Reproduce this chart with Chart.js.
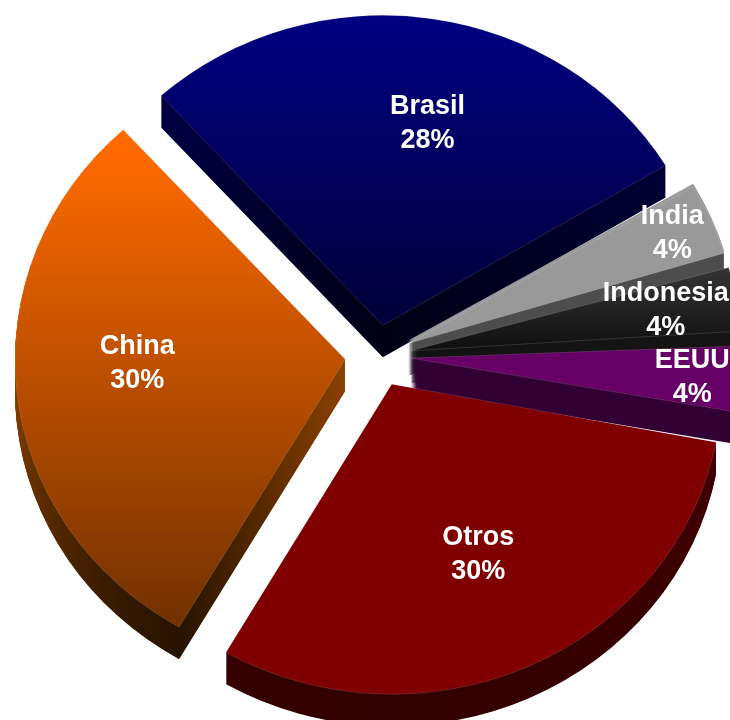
<!DOCTYPE html>
<html>
<head>
<meta charset="utf-8">
<style>
  html, body { margin: 0; padding: 0; background: #fff; overflow: hidden; }
  canvas { display: block; }
</style>
<script src="https://cdn.jsdelivr.net/npm/chart.js@4"></script>
</head>
<body>
<canvas id="myChart" width="730" height="720"></canvas>
<script>
// clockwise, starting from Brasil
const countries = ["Brasil", "India", "Indonesia", "EEUU", "Otros", "China"];
const shares = [28.1, 4.1, 3.7, 3.8, 30.4, 29.9];

// top face: [colour, colour, y from, y to]
const topFaces = [
  ["#000080", "#00003c", 60, 340],
  ["#999999", "#999999", 180, 350],
  ["#383838", "#111111", 270, 355],
  ["#660066", "#660066", 350, 420],
  ["#800000", "#800000", 380, 690],
  ["#ff6a00", "#703000", 150, 630],
];
// side walls, same layout
const walls = [
  ["#000048", "#000014", 100, 360],
  ["#4d4d4d", "#4d4d4d", 250, 360],
  ["#1c1c1c", "#101010", 300, 370],
  ["#330033", "#330033", 360, 440],
  ["#420000", "#300000", 400, 720],
  ["#8a4000", "#1c0e00", 360, 655],
];
// label shift from the slice's own centre line
const labelNudge = [[13, -2], [13, -10], [-15, 0], [8, -1], [0, -10], [-1, -19]];

const pieX = 378;
const pieY = 356;
const stretchX = 1.065;
const depth = 32;
const explode = 31;
const pieRadius = 310;
const indiaLift = 3; // India's face sits right against Brasil's wall

function grad(ctx, g) {
  const lg = ctx.createLinearGradient(0, g[2], 0, g[3]);
  lg.addColorStop(0, g[0]);
  lg.addColorStop(1, g[1]);
  return lg;
}

const pie3d = {
  id: "pie3d",
  beforeDatasetsDraw(chart) {
    const ctx = chart.ctx;
    const arcs = chart.getDatasetMeta(0).data;
    ctx.save();
    // flatten the circle and move it to where the picture has it
    ctx.translate(pieX, pieY);
    ctx.scale(stretchX, 1);
    ctx.translate(-arcs[0].x, -arcs[0].y);
    for (let i = 0; i < arcs.length; i++) {
      // arc.draw grows narrow slices when they are offset, take that back
      const sweep = arcs[i].endAngle - arcs[i].startAngle;
      arcs[i].outerRadius = pieRadius - explode * (1 - Math.sin(Math.min(Math.PI, sweep)));
      const o = arcs[i].options;
      const fill = o.backgroundColor;
      const border = o.borderWidth;
      o.backgroundColor = grad(ctx, walls[i]);
      o.borderWidth = 0;
      for (let d = depth; d > 0; d--) {
        ctx.save();
        ctx.translate(0, d);
        arcs[i].draw(ctx);
        ctx.restore();
      }
      o.backgroundColor = fill;
      if (countries[i] == "India") {
        for (let d = 1; d <= indiaLift; d++) {
          ctx.save();
          ctx.translate(0, -d);
          arcs[i].draw(ctx);
          ctx.restore();
        }
      }
      o.borderWidth = border;
    }
  },
  afterDatasetsDraw(chart) {
    const ctx = chart.ctx;
    ctx.restore();
    const arcs = chart.getDatasetMeta(0).data;
    ctx.save();
    ctx.fillStyle = "#fff";
    ctx.font = "bold 27px 'Liberation Sans', Arial, sans-serif";
    ctx.textAlign = "center";
    ctx.textBaseline = "middle";
    arcs.forEach(function (arc, i) {
      const mid = (arc.startAngle + arc.endAngle) / 2;
      const frac = shares[i] < 10 ? 0.83 : (i == 0 ? 0.66 : 0.63);
      const rr = explode + frac * pieRadius;
      const x = pieX + stretchX * Math.cos(mid) * rr + labelNudge[i][0];
      const y = pieY + Math.sin(mid) * rr + labelNudge[i][1] + 3;
      ctx.fillText(countries[i], x, y - 17);
      ctx.fillText(Math.round(shares[i]) + "%", x, y + 17);
    });
    ctx.restore();
  },
};

const myChart = new Chart(document.getElementById("myChart"), {
  type: "pie",
  data: {
    labels: countries,
    datasets: [
      {
        data: shares,
        backgroundColor: function (c) {
          return grad(c.chart.ctx, topFaces[c.dataIndex]);
        },
        borderColor: "rgba(255,255,255,0.22)",
        borderWidth: 0.6,
        // the arc element moves a slice by a quarter of this
        offset: explode * 4,
      },
    ],
  },
  options: {
    responsive: false,
    animation: false,
    radius: pieRadius,
    rotation: -42.2,
    plugins: {
      legend: { display: false },
      tooltip: { enabled: false },
    },
  },
  plugins: [pie3d],
});
</script>
</body>
</html>
